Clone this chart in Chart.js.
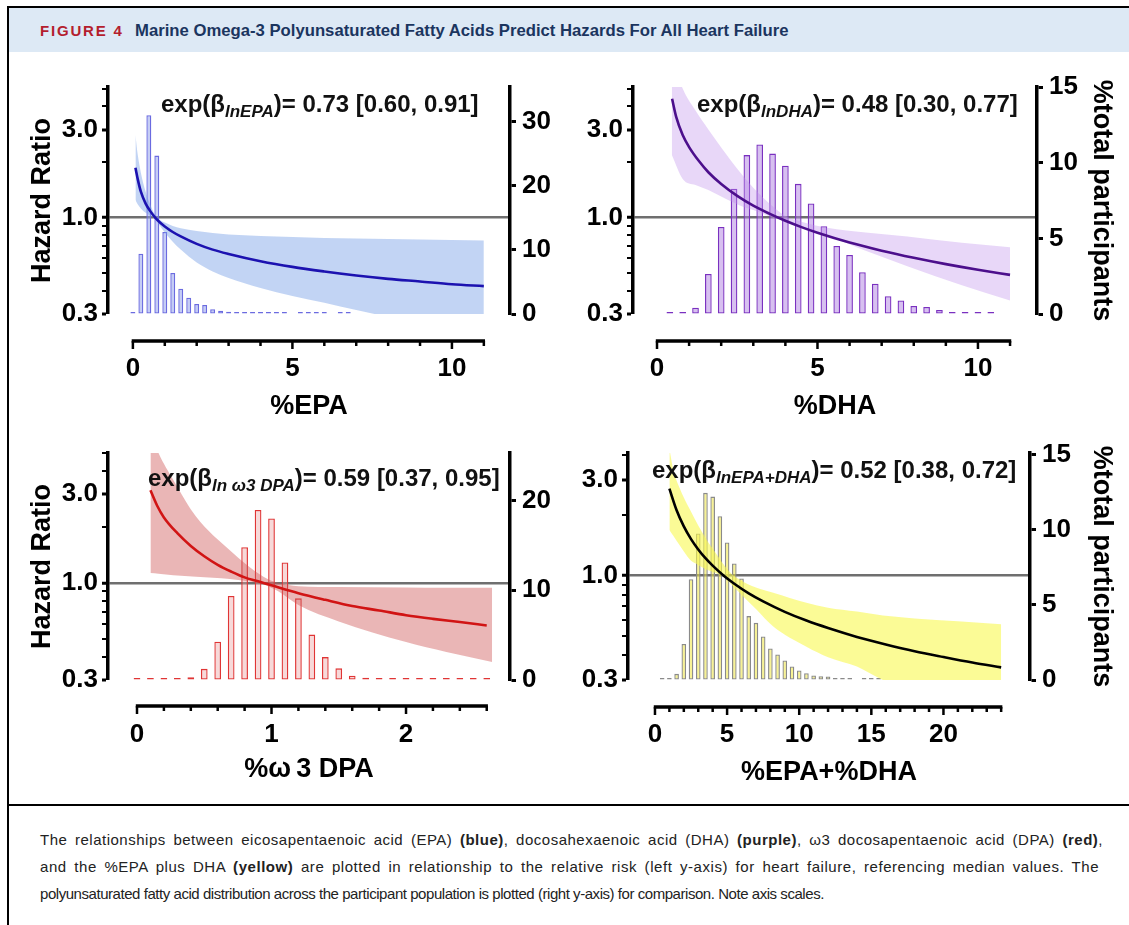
<!DOCTYPE html>
<html>
<head>
<meta charset="utf-8">
<script src="https://cdn.jsdelivr.net/npm/chart.js@4.4.1/dist/chart.umd.min.js"></script>
<style>
body { margin:0; width:1129px; height:925px; background:#fff; position:relative; overflow:hidden; font-family:"Liberation Sans", Arial, sans-serif; }
#topline { position:absolute; left:7px; top:6px; width:1122px; height:2px; background:#000; }
#leftline { position:absolute; left:7px; top:6px; width:2px; height:919px; background:#000; }
#header { position:absolute; left:9px; top:8px; width:1120px; height:44px; background:#dde9f5; }
#figno { position:absolute; left:40px; top:22px; line-height:18px; color:#b41e2e; font-weight:bold; font-size:15px; letter-spacing:1.8px; }
#figtitle { position:absolute; left:135px; top:21px; line-height:20px; color:#1b355f; font-weight:bold; font-size:16.7px; }
#sepline { position:absolute; left:7px; top:804px; width:1122px; height:2px; background:#000; }
#caption { position:absolute; left:40px; top:826px; font-size:15px; line-height:27px; color:#222; }
#caption div { white-space:nowrap; }
#cap1 { letter-spacing:0.5px; word-spacing:3px; }
#cap2 { letter-spacing:0.55px; word-spacing:2.9px; }
#cap3 { letter-spacing:-0.45px; }
canvas { position:absolute; }
</style>
</head>
<body>
<div id="topline"></div>
<div id="header"></div>
<div id="leftline"></div>
<div id="figno">FIGURE 4</div>
<div id="figtitle">Marine Omega-3 Polyunsaturated Fatty Acids Predict Hazards For All Heart Failure</div>

<canvas id="cEPA" width="550" height="370" style="left:10px;top:60px"></canvas>
<canvas id="cDHA" width="569" height="370" style="left:560px;top:60px"></canvas>
<canvas id="cDPA" width="550" height="370" style="left:10px;top:430px"></canvas>
<canvas id="cSUM" width="569" height="370" style="left:560px;top:430px"></canvas>

<div id="sepline"></div>
<div id="caption">
<div id="cap1">The relationships between eicosapentaenoic acid (EPA) <b>(blue)</b>, docosahexaenoic acid (DHA) <b>(purple)</b>, ω3 docosapentaenoic acid (DPA) <b>(red)</b>,</div>
<div id="cap2">and the %EPA plus DHA <b>(yellow)</b> are plotted in relationship to the relative risk (left y-axis) for heart failure, referencing median values. The</div>
<div id="cap3">polyunsaturated fatty acid distribution across the participant population is plotted (right y-axis) for comparison. Note axis scales.</div>
</div>

<script>
// ---- %EPA ----
var epaBinX = [0, 0.25, 0.5, 0.75, 1.0, 1.25, 1.5, 1.75, 2.0, 2.25, 2.5, 2.75, 3.0, 3.25, 3.5, 3.75, 4.0, 4.25, 4.5, 4.75, 5.0, 5.25, 5.5, 5.75, 6.0, 6.25, 6.5, 6.75];
var epaPct  = [0, 9.4, 31.0, 24.7, 12.8, 6.4, 3.95, 2.55, 1.56, 1.4, 0.73, 0.51, 0.36, 0.31, 0.15, 0.1, 0.05, 0, 0, 0, null, 0, 0, 0, 0, null, 0, 0];
var epaCurveX = [0.08, 0.15, 0.25, 0.4, 0.55, 0.7, 0.85, 1.0, 1.25, 1.5, 2, 2.5, 3, 4, 5, 6, 7, 8, 9, 10, 11];
var epaHR     = [1.86, 1.62, 1.38, 1.19, 1.08, 1.0, 0.94, 0.895, 0.835, 0.79, 0.72, 0.67, 0.635, 0.58, 0.54, 0.51, 0.485, 0.465, 0.45, 0.435, 0.425];
var epaHi     = [2.8, 2.2, 1.75, 1.38, 1.17, 1.03, 0.97, 0.94, 0.9, 0.875, 0.845, 0.825, 0.81, 0.795, 0.785, 0.775, 0.77, 0.765, 0.76, 0.755, 0.75];
var epaLo     = [1.25, 1.18, 1.12, 1.06, 1.02, 0.98, 0.9, 0.83, 0.74, 0.67, 0.57, 0.51, 0.47, 0.415, 0.375, 0.345, 0.315, 0.29, 0.27, 0.255, 0.24];

// ---- %DHA ----
var dhaBinX = [0.4, 0.8, 1.2, 1.6, 2.0, 2.4, 2.8, 3.2, 3.6, 4.0, 4.4, 4.8, 5.2, 5.6, 6.0, 6.4, 6.8, 7.2, 7.6, 8.0, 8.4, 8.8, 9.2, 9.6, 10.0, 10.4];
var dhaPct  = [0, 0.05, 0.42, 2.64, 5.75, 8.28, 10.5, 11.2, 10.6, 9.8, 8.6, 7.3, 5.8, 4.5, 3.9, 2.76, 2.0, 1.17, 0.9, 0.53, 0.46, 0.26, 0.13, 0, 0, 0];
var dhaCurveX = [0.47, 0.6, 0.8, 1.0, 1.3, 1.6, 2.0, 2.5, 3.0, 3.5, 4.0, 4.5, 5, 6, 7, 8, 9, 10, 11];
var dhaHR     = [4.4, 3.5, 2.8, 2.41, 2.03, 1.76, 1.52, 1.31, 1.16, 1.05, 0.96, 0.887, 0.827, 0.732, 0.661, 0.605, 0.559, 0.521, 0.489];
var dhaBandX  = [0.46, 0.8, 1.2, 1.6, 2.0, 2.6, 3.0, 3.6, 4.0, 4.5, 5.3, 6.5, 7.8, 9.5, 11];
var dhaHi     = [7.5, 5.0, 3.8, 3.0, 2.4, 1.75, 1.45, 1.15, 1.02, 0.95, 0.88, 0.83, 0.79, 0.73, 0.69];
var dhaLo     = [2.19, 1.62, 1.5, 1.41, 1.3, 1.16, 1.1, 1.0, 0.95, 0.88, 0.8, 0.66, 0.545, 0.43, 0.355];

// ---- %w3 DPA ----
var dpaBinX = [0, 0.1, 0.2, 0.3, 0.4, 0.5, 0.6, 0.7, 0.8, 0.9, 1.0, 1.1, 1.2, 1.3, 1.4, 1.5, 1.6, 1.7, 1.8, 1.9, 2.0, 2.1, 2.2, 2.3, 2.4, 2.5, 2.6];
var dpaPct  = [0, 0, 0, 0, 0.3, 1.24, 4.27, 9.36, 14.8, 18.95, 18.0, 13.1, 9.1, 5.06, 2.55, 1.3, 0.48, 0.26, 0.12, 0.1, 0, 0, 0, 0, 0, 0, 0];
var dpaCurveX = [0.1, 0.15, 0.2, 0.3, 0.4, 0.5, 0.6, 0.7, 0.8, 0.9, 1.0, 1.2, 1.4, 1.6, 1.8, 2.0, 2.2, 2.4, 2.6];
var dpaHR     = [3.15, 2.6, 2.25, 1.85, 1.58, 1.39, 1.25, 1.15, 1.07, 1.02, 0.97, 0.88, 0.81, 0.75, 0.71, 0.67, 0.64, 0.615, 0.59];
var dpaBandX  = [0.1, 0.16, 0.27, 0.44, 0.69, 0.94, 1.05, 1.2, 1.5, 2.0, 2.3, 2.64];
var dpaHi     = [6.5, 5.0, 3.58, 2.27, 1.5, 1.08, 1.0, 0.96, 0.95, 0.945, 0.94, 0.94];
var dpaLo     = [1.13, 1.12, 1.1, 1.08, 1.05, 0.98, 0.9, 0.76, 0.62, 0.48, 0.425, 0.375];

// ---- %EPA+%DHA ----
var sumBinX = [0.5, 1.0, 1.5, 2.0, 2.5, 3.0, 3.5, 4.0, 4.5, 5.0, 5.5, 6.0, 6.5, 7.0, 7.5, 8.0, 8.5, 9.0, 9.5, 10.0, 10.5, 11.0, 11.5, 12.0, 12.5, 13.0, 13.5, 14.0, 14.5, 15.0, 15.5];
var sumPct  = [0, 0, 0.41, 2.4, 6.7, 9.75, 12.45, 12.2, 10.9, 9.15, 7.75, 6.75, 4.25, 3.8, 2.9, 2.1, 1.7, 1.3, 0.9, 0.63, 0.45, 0.3, 0.25, 0.23, 0.12, 0, 0, null, 0, 0, 0];
var sumCurveX = [1.0, 1.5, 2.0, 2.5, 3.0, 3.5, 4.0, 4.75, 5.5, 6.5, 7.5, 9, 10.5, 12, 14, 16, 18, 20, 22, 24];
var sumHR     = [2.72, 2.12, 1.76, 1.52, 1.35, 1.22, 1.12, 1.0, 0.909, 0.814, 0.742, 0.658, 0.595, 0.546, 0.493, 0.452, 0.418, 0.391, 0.367, 0.347];
var sumBandX  = [1.0, 1.27, 1.7, 2.43, 3.0, 3.58, 4.2, 4.74, 5.3, 5.9, 7, 8.2, 10.5, 12, 14, 15.8, 18, 21, 24];
var sumHi     = [4.3, 3.38, 2.75, 2.13, 1.78, 1.51, 1.3, 1.14, 1.02, 0.95, 0.87, 0.82, 0.73, 0.69, 0.66, 0.63, 0.61, 0.59, 0.57];
var sumLo     = [1.69, 1.58, 1.42, 1.2, 1.13, 1.07, 1.03, 0.99, 0.9, 0.816, 0.68, 0.556, 0.44, 0.39, 0.35, 0.3, 0.27, 0.24, 0.22];

var hrTicks = [0.3, 0.4, 0.5, 0.6, 0.7, 0.8, 0.9, 1, 2, 3, 4, 5];
var hrLabels = { '0.3': '0.3', '1': '1.0', '3': '3.0' };

var FONT = '"Liberation Sans", Arial, sans-serif';
var tickFont = { family: FONT, size: 26, weight: 'bold' };
var titleFont = { family: FONT, size: 27, weight: 'bold' };

function zipXY(xs, ys) {
    return xs.map(function (x, i) { return { x: x, y: ys[i] }; });
}

// x axis drawn below the plot, detached from the y axes
var offsetAxis = {
    id: 'offsetAxis',
    afterDraw: function (chart, args, o) {
        var xs = chart.scales.x, ctx = chart.ctx;
        var y = chart.chartArea.bottom + o.gap;
        var x0 = xs.getPixelForValue(o.from), x1 = xs.getPixelForValue(o.to);
        ctx.save();
        ctx.strokeStyle = '#000';
        ctx.lineWidth = 3.5;
        ctx.beginPath();
        ctx.moveTo(x0 - 1.2, y);
        ctx.lineTo(x1 + 1.2, y);
        ctx.stroke();
        ctx.lineWidth = 2.5;
        var n = Math.round((o.to - o.from) / o.step);
        for (var i = 0; i <= n; i++) {
            var v = o.from + i * o.step;
            var px = xs.getPixelForValue(v);
            var r = v / o.major;
            var major = Math.abs(r - Math.round(r)) < 1e-6;
            ctx.beginPath();
            ctx.moveTo(px, y);
            ctx.lineTo(px, y + (major ? 8 : 5));
            ctx.stroke();
        }
        ctx.restore();
    }
};

// exp(beta ...) label with subscript
var annot = {
    id: 'annot',
    afterDraw: function (chart, args, o) {
        var ctx = chart.ctx;
        ctx.save();
        ctx.fillStyle = '#111';
        ctx.textBaseline = 'alphabetic';
        var x = o.x;
        o.parts.forEach(function (p) {
            ctx.font = p[1] ? 'italic bold 17px ' + FONT : 'bold 24px ' + FONT;
            ctx.fillText(p[0], x, o.y + (p[1] ? 5 : 0));
            x += ctx.measureText(p[0]).width;
        });
        ctx.restore();
    }
};

function panelChart(id, p) {
    return new Chart(document.getElementById(id), {
        type: 'line',
        data: {
            datasets: [{
                type: 'line', data: zipXY(p.curveX, p.hr), yAxisID: 'yL',
                borderColor: p.curveColor, borderWidth: 2.6, pointRadius: 0,
                cubicInterpolationMode: 'monotone', fill: false, order: 1
            }, {
                type: 'line', data: zipXY(p.bandX, p.hi), yAxisID: 'yL',
                borderWidth: 0, pointRadius: 0, cubicInterpolationMode: 'monotone',
                backgroundColor: p.bandColor, fill: '+1', order: 2, clip: 0
            }, {
                type: 'line', data: zipXY(p.bandX, p.lo), yAxisID: 'yL',
                borderWidth: 0, pointRadius: 0, cubicInterpolationMode: 'monotone',
                fill: false, order: 2, clip: 0
            }, {
                type: 'bar', data: zipXY(p.binX, p.pct), yAxisID: 'yR',
                backgroundColor: p.barFill, borderColor: p.barEdge, borderWidth: 1.3,
                borderSkipped: false, minBarLength: 2,
                categoryPercentage: 1, barPercentage: p.barPct, order: 3
            }]
        },
        plugins: [offsetAxis, annot],
        options: {
            responsive: false,
            animation: false,
            devicePixelRatio: 1,
            layout: { padding: { left: 0, right: 0, top: p.top, bottom: 0 } },
            plugins: {
                legend: { display: false },
                tooltip: { enabled: false },
                offsetAxis: p.axis,
                annot: p.annot
            },
            scales: {
                x: {
                    type: 'linear', min: p.xMin, max: p.xMax, offset: false,
                    afterBuildTicks: function (s) { s.ticks = p.xTicks.map(function (v) { return { value: v }; }); },
                    afterFit: function (s) { s.height = p.bottomH; },
                    grid: { display: false, drawTicks: false, offset: false },
                    border: { display: false },
                    ticks: { font: tickFont, color: '#000', padding: 39, maxRotation: 0, autoSkip: false },
                    title: { display: true, text: p.xTitle, font: titleFont, color: '#000', padding: { top: 0, bottom: p.xTitlePad } }
                },
                yL: {
                    type: 'logarithmic', position: 'left', min: 0.3, max: p.hrMax,
                    afterBuildTicks: function (s) {
                        s.ticks = hrTicks.filter(function (v) { return v <= p.hrMax; }).map(function (v) { return { value: v }; });
                    },
                    afterFit: function (s) { s.width = p.leftW; },
                    ticks: {
                        font: tickFont, color: '#000', padding: 4, autoSkip: false,
                        callback: function (v) { return hrLabels[String(v)] || ''; }
                    },
                    grid: {
                        drawOnChartArea: true, tickLength: 6, tickColor: '#000',
                        color: function (c) { return c.tick && c.tick.value === 1 ? '#6f6f6f' : 'rgba(0,0,0,0)'; },
                        lineWidth: function (c) { return c.tick && c.tick.value === 1 ? 2.5 : 0; },
                        tickWidth: function (c) { return c.tick && hrLabels[String(c.tick.value)] ? 3 : 2; }
                    },
                    border: { display: true, color: '#000', width: 3.5 },
                    title: { display: p.leftTitle, text: 'Hazard Ratio', font: titleFont, color: '#000', padding: { top: 16, bottom: 0 } }
                },
                yR: {
                    type: 'linear', position: 'right', min: 0, max: p.pctMax,
                    afterBuildTicks: function (s) { s.ticks = p.pctTicks.map(function (v) { return { value: v }; }); },
                    afterFit: function (s) { s.width = p.rightW; },
                    ticks: { font: tickFont, color: '#000', padding: 6, autoSkip: false },
                    grid: { drawOnChartArea: false, tickLength: 6, tickWidth: 3, tickColor: '#000' },
                    border: { display: true, color: '#000', width: 3.5 },
                    title: { display: p.rightTitle, text: '%total participants', font: titleFont, color: '#000', padding: { top: 11, bottom: 0 } }
                }
            }
        }
    });
}

panelChart('cEPA', {
    binX: epaBinX, pct: epaPct, curveX: epaCurveX, hr: epaHR, bandX: epaCurveX, hi: epaHi, lo: epaLo,
    curveColor: '#1c12b0', bandColor: 'rgba(120,160,230,0.45)',
    barFill: 'rgba(140,155,235,0.5)', barEdge: '#6b6be0', barPct: 0.62,
    xMin: -0.78, xMax: 11.82, xTicks: [0, 5, 10], xTitle: '%EPA', xTitlePad: 7,
    hrMax: 5.1, pctMax: 35.4, pctTicks: [0, 10, 20, 30],
    leftW: 98, rightW: 50, top: 27, bottomH: 116, leftTitle: true, rightTitle: false,
    axis: { gap: 27, from: 0, to: 11, step: 1, major: 5 },
    annot: { x: 151, y: 51.5, parts: [['exp(β', false], ['lnEPA', true], [')= 0.73 [0.60, 0.91]', false]] }
});

panelChart('cDHA', {
    binX: dhaBinX, pct: dhaPct, curveX: dhaCurveX, hr: dhaHR, bandX: dhaBandX, hi: dhaHi, lo: dhaLo,
    curveColor: '#4c0f8c', bandColor: 'rgba(190,140,235,0.35)',
    barFill: 'rgba(175,130,225,0.5)', barEdge: '#7a30c0', barPct: 0.52,
    xMin: -0.748, xMax: 11.84, xTicks: [0, 5, 10], xTitle: '%DHA', xTitlePad: 7,
    hrMax: 5.1, pctMax: 15, pctTicks: [0, 5, 10, 15],
    leftW: 73, rightW: 92, top: 27, bottomH: 116, leftTitle: false, rightTitle: true,
    axis: { gap: 27, from: 0, to: 11, step: 1, major: 5 },
    annot: { x: 137, y: 51.5, parts: [['exp(β', false], ['lnDHA', true], [')= 0.48 [0.30, 0.77]', false]] }
});

panelChart('cDPA', {
    binX: dpaBinX, pct: dpaPct, curveX: dpaCurveX, hr: dpaHR, bandX: dpaBandX, hi: dpaHi, lo: dpaLo,
    curveColor: '#d11414', bandColor: 'rgba(205,80,80,0.42)',
    barFill: 'rgba(235,160,160,0.4)', barEdge: '#e03535', barPct: 0.5,
    xMin: -0.2156, xMax: 2.773, xTicks: [0, 1, 2], xTitle: '%ω\u20093 DPA', xTitlePad: 14,
    hrMax: 5.0, pctMax: 25.3, pctTicks: [0, 10, 20],
    leftW: 98, rightW: 50, top: 23, bottomH: 120, leftTitle: true, rightTitle: false,
    axis: { gap: 26, from: 0, to: 2.6, step: 0.2, major: 1 },
    annot: { x: 138, y: 56, parts: [['exp(β', false], ['ln ω3 DPA', true], [')= 0.59 [0.37, 0.95]', false]] }
});

panelChart('cSUM', {
    binX: sumBinX, pct: sumPct, curveX: sumCurveX, hr: sumHR, bandX: sumBandX, hi: sumHi, lo: sumLo,
    curveColor: '#000000', bandColor: 'rgba(248,248,80,0.6)',
    barFill: 'rgba(240,232,60,0.55)', barEdge: '#8a8a8a', barPct: 0.64,
    xMin: -1.87, xMax: 26.0, xTicks: [0, 5, 10, 15, 20], xTitle: '%EPA+%DHA', xTitlePad: 11,
    hrMax: 4.1, pctMax: 15.1, pctTicks: [0, 5, 10, 15],
    leftW: 68, rightW: 99, top: 23, bottomH: 120, leftTitle: false, rightTitle: true,
    axis: { gap: 27, from: 0, to: 24, step: 1, major: 5 },
    annot: { x: 92, y: 48, parts: [['exp(β', false], ['lnEPA+DHA', true], [')= 0.52 [0.38, 0.72]', false]] }
});
</script>
</body>
</html>
